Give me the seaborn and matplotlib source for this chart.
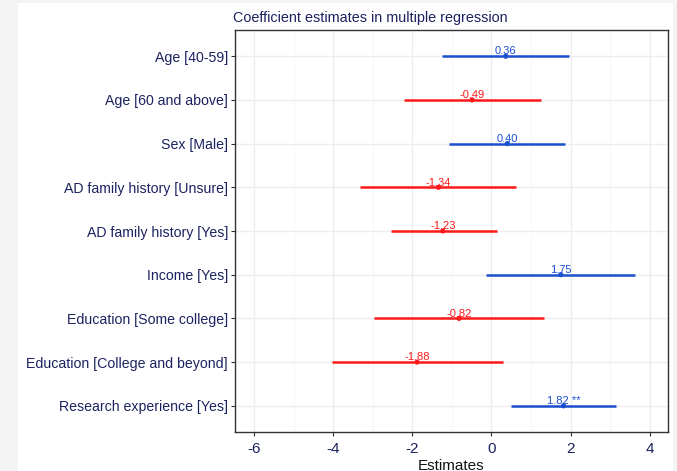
import matplotlib.pyplot as plt
import matplotlib.patches as mpatches
import pandas as pd
import seaborn as sns

terms = ['Age [40-59]', 'Age [60 and above]', 'Sex [Male]',
         'AD family history [Unsure]', 'AD family history [Yes]',
         'Income [Yes]', 'Education [Some college]',
         'Education [College and beyond]', 'Research experience [Yes]']
estimates = [0.36, -0.49, 0.40, -1.34, -1.23, 1.75, -0.82, -1.88, 1.82]
conf_low = [-1.25, -2.20, -1.08, -3.31, -2.55, -0.14, -2.97, -4.03, 0.49]
conf_high = [1.97, 1.25, 1.87, 0.63, 0.13, 3.63, 1.33, 0.30, 3.14]
labels = ['0.36', '-0.49', '0.40', '-1.34', '-1.23', '1.75', '-0.82', '-1.88', '1.82 **']

df = pd.DataFrame({'term': terms, 'est': estimates, 'lo': conf_low, 'hi': conf_high,
                   'label': labels})
df['sign'] = ['pos' if e > 0 else 'neg' for e in df['est']]
palette = {'pos': '#1a4fcf', 'neg': '#ff1a1a'}
navy = '#1c2260'

sns.set_style('whitegrid')
plt.rcParams['font.family'] = ['Liberation Sans', 'DejaVu Sans']
plt.rcParams['axes.unicode_minus'] = False

fig = plt.figure(figsize=(6.77, 4.71), dpi=100, facecolor='#f4f4f4')
fig.patches.append(mpatches.Rectangle((18 / 677, 0), (673 - 18) / 677, 1 - 3 / 471,
                                      transform=fig.transFigure, facecolor='white',
                                      edgecolor='none', zorder=-10))
ax = fig.add_axes([235 / 677, 1 - 432 / 471, (668 - 235) / 677, (432 - 30) / 471])

ypos = list(range(len(terms)))
for i, row in df.iterrows():
    c = palette[row['sign']]
    ax.plot([row['lo'], row['hi']], [i, i], color=c, lw=1.8, solid_capstyle='butt', zorder=3)
    ax.text(row['est'], i - 0.04, row['label'], color=c, ha='center', va='baseline',
            fontsize=8, zorder=4)

sns.scatterplot(data=df, x='est', y=ypos, hue='sign', palette=palette, s=14,
                edgecolor='none', legend=False, ax=ax, zorder=5)

ax.set_xlim(-6.48, 4.46)
ax.set_ylim(8.6, -0.6)
ax.set_xticks([-6, -4, -2, 0, 2, 4])
ax.set_xticks([-5, -3, -1, 1, 3], minor=True)
ax.set_yticks(ypos)
ax.set_yticklabels(terms)
ax.grid(True, which='major', color='#ededed', lw=1.0)
ax.grid(True, which='minor', axis='x', color='#f5f5f5', lw=0.6)
ax.tick_params(axis='y', which='major', length=3, color='#333333', labelsize=10.2,
               labelcolor=navy, left=True, pad=2)
ax.tick_params(axis='x', which='major', length=3, color='#333333', labelsize=11,
               labelcolor=navy, bottom=True, pad=4)
ax.tick_params(axis='x', which='minor', length=0)
ax.set_xlabel('Estimates', fontsize=11, color='#111111', labelpad=2)
ax.set_ylabel('')
for s in ax.spines.values():
    s.set_color('#333333')
    s.set_linewidth(1.0)
ax.set_title('Coefficient estimates in multiple regression', loc='left', fontsize=10.4,
             color=navy, pad=6, x=-0.005)

fig.savefig('out.png', dpi=100, facecolor=fig.get_facecolor())
